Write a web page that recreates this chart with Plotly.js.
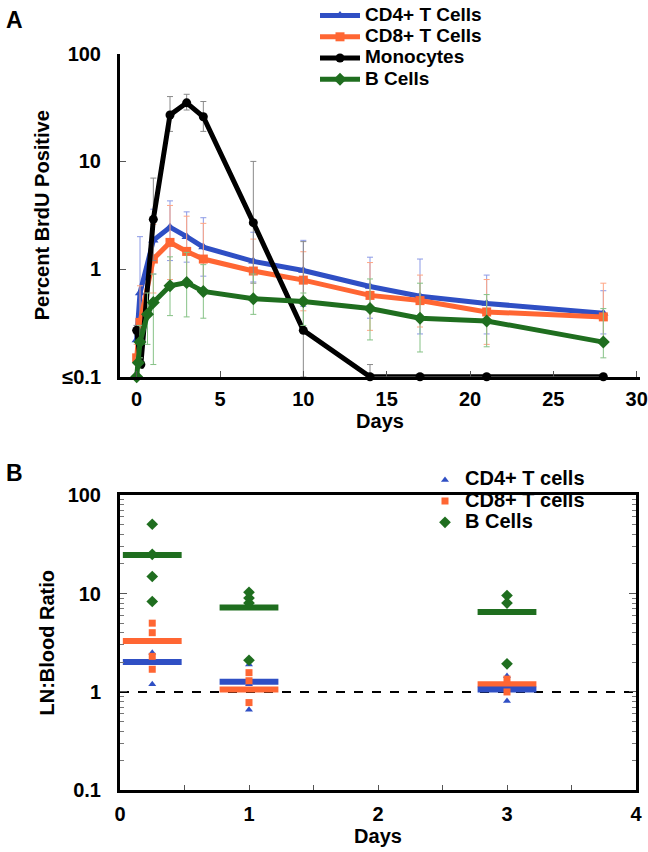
<!DOCTYPE html>
<html>
<head>
<meta charset="utf-8">
<script src="https://cdn.plot.ly/plotly-3.0.1.min.js"></script>
<style>html,body{margin:0;padding:0;background:#fff;}#chart{width:648px;height:852px;}</style>
</head>
<body>
<div id="chart"></div>
<script>
// ---------- Panel A: Percent BrdU positive over time ----------
const cd4Days = [0, 0.2, 1, 2, 3, 4, 7, 10, 14, 17, 21, 28];
const cd4Pct  = [0.22, 0.6, 1.85, 2.45, 2.0, 1.6, 1.18, 0.97, 0.69, 0.56, 0.48, 0.39];
const cd4Hi   = [0.3, 2.0, 3.6, 4.3, 3.4, 3.0, 2.2, 1.85, 1.29, 1.24, 0.88, 0.63];
const cd4Lo   = [0.15, 0.3, 0.9, 1.2, 1.16, 0.86, 0.76, 0.45, 0.35, 0.25, 0.25, 0.25];

const cd8Days = [0, 0.2, 1, 2, 3, 4, 7, 10, 14, 17, 21, 28];
const cd8Pct  = [0.15, 0.32, 1.24, 1.77, 1.46, 1.24, 0.96, 0.79, 0.57, 0.51, 0.40, 0.36];
const cd8Hi   = [0.2, 0.7, 2.6, 3.9, 3.1, 2.66, 1.9, 1.45, 1.15, 0.88, 0.80, 0.74];
const cd8Lo   = [0.1, 0.15, 0.6, 0.8, 0.7, 0.6, 0.5, 0.41, 0.27, 0.29, 0.20, 0.22];

const monoDays = [0, 0.25, 1, 2, 3, 4, 7, 10, 14, 17, 21, 28];
const monoPct  = [0.27, 0.13, 2.9, 27, 35, 26, 2.7, 0.27, 0.1, 0.1, 0.1, 0.1];
const monoHi   = [0.3, 0.15, 7, 40, 42, 36, 10, 1.8, 0.13, 0.1, 0.1, 0.1];
const monoLo   = [0.25, 0.12, 1.2, 19, 30, 19, 0.74, 0.1, 0.1, 0.1, 0.1, 0.1];

const bDays = [0, 0.1, 0.2, 0.65, 1, 2, 3, 4, 7, 10, 14, 17, 21, 28];
const bPct  = [0.1, 0.135, 0.21, 0.38, 0.49, 0.70, 0.75, 0.62, 0.53, 0.50, 0.43, 0.35, 0.33, 0.21];
const bHi   = [0.1, 0.15, 0.3, 0.6, 0.9, 1.3, 1.43, 1.1, 0.9, 0.6, 0.81, 0.74, 0.58, 0.43];
const bLo   = [0.1, 0.12, 0.15, 0.2, 0.13, 0.37, 0.36, 0.35, 0.38, 0.3, 0.22, 0.17, 0.19, 0.15];

// ---------- Panel B: LN:Blood ratio ----------
const cd4RatioDays = [0.25, 0.25, 0.25, 1, 1, 1, 3, 3];
const cd4Ratio     = [2.5, 2.0, 1.2, 1.9, 1.2, 0.66, 1.45, 0.81];
const cd8RatioDays = [0.25, 0.25, 0.25, 0.25, 1, 1, 1, 3, 3];
const cd8Ratio     = [5.0, 4.0, 2.3, 1.7, 1.57, 1.3, 0.78, 1.35, 1.0];
const bRatioDays   = [0.25, 0.25, 0.25, 0.25, 1, 1, 1, 1, 3, 3, 3];
const bRatio       = [50.6, 25, 14.9, 8.3, 10.3, 9.0, 8.0, 2.1, 9.55, 8.0, 1.93];

const summaryDays  = [0.25, 1, 3];
const cd4Summary   = [2.02, 1.27, 1.06];
const cd8Summary   = [3.3, 1.06, 1.2];
const bSummary     = [24.6, 7.2, 6.5];

const legendA = ['CD4+ T Cells', 'CD8+ T Cells', 'Monocytes', 'B Cells'];
const legendB = ['CD4+ T cells', 'CD8+ T cells', 'B Cells'];

const colBlue = '#2f4fc4', colOrange = '#ff6633', colBlack = '#000000', colGreen = '#1f6e1f';
const ebBlue = '#8c9ae6', ebOrange = '#ffa584', ebBlack = '#8a8a8a', ebGreen = '#86c286';

function errs(y, hi, lo) {
  return {
    type: 'data', symmetric: false,
    array: y.map((v, i) => Math.max(hi[i] - v, 0)),
    arrayminus: y.map((v, i) => Math.max(v - lo[i], 0)),
    thickness: 1, width: 3
  };
}
const big = (t, px) => '<span style="font-size:' + px + 'px">' + t + '</span>';

const FONT = 'Liberation Sans, Arial, Helvetica, sans-serif';

const traces = [
  { x: cd4Days, y: cd4Pct, name: big(legendA[0], 19), type: 'scatter', mode: 'lines+markers',
    line: {color: colBlue, width: 5}, marker: {symbol: 'triangle-up', size: 9, color: colBlue},
    error_y: Object.assign(errs(cd4Pct, cd4Hi, cd4Lo), {color: ebBlue}),
    xaxis: 'x', yaxis: 'y', legend: 'legend', cliponaxis: false },
  { x: cd8Days, y: cd8Pct, name: big(legendA[1], 19), type: 'scatter', mode: 'lines+markers',
    line: {color: colOrange, width: 5}, marker: {symbol: 'square', size: 9, color: colOrange},
    error_y: Object.assign(errs(cd8Pct, cd8Hi, cd8Lo), {color: ebOrange}),
    xaxis: 'x', yaxis: 'y', legend: 'legend', cliponaxis: false },
  { x: monoDays, y: monoPct, name: big(legendA[2], 19), type: 'scatter', mode: 'lines+markers',
    line: {color: colBlack, width: 5}, marker: {symbol: 'circle', size: 9, color: colBlack},
    error_y: Object.assign(errs(monoPct, monoHi, monoLo), {color: ebBlack}),
    xaxis: 'x', yaxis: 'y', legend: 'legend', cliponaxis: false },
  { x: bDays, y: bPct, name: big(legendA[3], 19), type: 'scatter', mode: 'lines+markers',
    line: {color: colGreen, width: 5}, marker: {symbol: 'diamond', size: 10, color: colGreen},
    error_y: Object.assign(errs(bPct, bHi, bLo), {color: ebGreen}),
    xaxis: 'x', yaxis: 'y', legend: 'legend', cliponaxis: false },

  // Panel B summary bars
  { x: summaryDays, y: bSummary, type: 'scatter', mode: 'markers', showlegend: false, hoverinfo: 'skip',
    marker: {symbol: 'line-ew', size: 42, line: {color: colGreen, width: 6}}, xaxis: 'x2', yaxis: 'y2' },
  { x: summaryDays, y: cd8Summary, type: 'scatter', mode: 'markers', showlegend: false, hoverinfo: 'skip',
    marker: {symbol: 'line-ew', size: 42, line: {color: colOrange, width: 6}}, xaxis: 'x2', yaxis: 'y2' },
  { x: summaryDays, y: cd4Summary, type: 'scatter', mode: 'markers', showlegend: false, hoverinfo: 'skip',
    marker: {symbol: 'line-ew', size: 42, line: {color: colBlue, width: 6}}, xaxis: 'x2', yaxis: 'y2' },

  // Panel B individual points
  { x: cd4RatioDays, y: cd4Ratio, name: big(legendB[0], 20), type: 'scatter', mode: 'markers',
    marker: {symbol: 'triangle-up', size: 7, color: colBlue}, xaxis: 'x2', yaxis: 'y2', legend: 'legend2' },
  { x: cd8RatioDays, y: cd8Ratio, name: big(legendB[1], 20), type: 'scatter', mode: 'markers',
    marker: {symbol: 'square', size: 7, color: colOrange}, xaxis: 'x2', yaxis: 'y2', legend: 'legend2' },
  { x: bRatioDays, y: bRatio, name: big(legendB[2], 20), type: 'scatter', mode: 'markers',
    marker: {symbol: 'diamond', size: 9, color: colGreen}, xaxis: 'x2', yaxis: 'y2', legend: 'legend2' }
];

const tickFont = {family: FONT, size: 20, color: '#000', weight: 'bold'};
const titleFont = {family: FONT, size: 20, color: '#000', weight: 'bold'};

const layout = {
  width: 648, height: 852,
  margin: {l: 0, r: 0, t: 0, b: 0},
  paper_bgcolor: '#fff', plot_bgcolor: '#fff',
  font: {family: FONT, color: '#000'},
  xaxis: {
    domain: [120/648, 640/648], anchor: 'y', range: [-1, 30.2],
    tickvals: [0, 5, 10, 15, 20, 25, 30], ticks: 'inside', ticklen: 6, tickcolor: '#555',
    showline: true, linecolor: '#000', linewidth: 3, showgrid: false, zeroline: false,
    tickfont: tickFont, ticklabelstandoff: 2,
    title: {text: 'Days', font: titleFont, standoff: 0}
  },
  yaxis: {
    domain: [1 - 374/852, 1 - 49/852], anchor: 'x', type: 'log', range: [-1, 2],
    tickvals: [0.1, 1, 10, 100], ticktext: ['≤0.1', '1', '10', '100'],
    ticks: 'inside', ticklen: 6, tickcolor: '#555',
    showline: true, linecolor: '#000', linewidth: 3, showgrid: false, zeroline: false,
    tickfont: tickFont, ticklabelstandoff: 12,
    title: {text: 'Percent BrdU Positive', font: titleFont, standoff: 8}
  },
  xaxis2: {
    domain: [120/648, 636/648], anchor: 'y2', range: [0, 4],
    tickvals: [0, 1, 2, 3, 4], ticks: 'inside', ticklen: 5, tickcolor: '#555',
    minor: {dtick: 0.5, ticks: 'inside', ticklen: 5, tickcolor: '#555'},
    showline: true, linecolor: '#000', linewidth: 3, mirror: true, showgrid: false, zeroline: false,
    tickfont: tickFont, ticklabelstandoff: 4,
    title: {text: 'Days', font: titleFont, standoff: 2}
  },
  yaxis2: {
    domain: [1 - 790/852, 1 - 493/852], anchor: 'x2', type: 'log', range: [-1, 2],
    tickvals: [0.1, 1, 10, 100], ticktext: ['0.1', '1', '10', '100'],
    ticks: 'inside', ticklen: 7, tickcolor: '#555',
    minor: {dtick: 'D1', ticks: 'inside', ticklen: 4, tickcolor: '#777', showgrid: false},
    showline: true, linecolor: '#000', linewidth: 3, mirror: 'ticks', showgrid: false, zeroline: false,
    tickfont: tickFont, ticklabelstandoff: 12,
    title: {text: 'LN:Blood Ratio', font: titleFont, standoff: 8}
  },
  legend: {
    x: 315/648, y: 1.006, xanchor: 'left', yanchor: 'top',
    bgcolor: 'rgba(0,0,0,0)', tracegroupgap: 0, itemwidth: 40,
    font: {family: FONT, size: 14, color: '#000', weight: 'bold'}
  },
  legend2: {
    x: 425/648, y: 1 - 462/852, xanchor: 'left', yanchor: 'top',
    bgcolor: 'rgba(0,0,0,0)', tracegroupgap: 0, itemwidth: 30,
    font: {family: FONT, size: 14, color: '#000', weight: 'bold'}
  },
  shapes: [
    {type: 'line', xref: 'x2 domain', yref: 'y2', x0: 0, x1: 1, y0: 1, y1: 1,
     line: {color: '#000', width: 2, dash: 'dash'}, layer: 'below'}
  ],
  annotations: [
    {text: 'A', x: 4/648, y: 1, xref: 'paper', yref: 'paper', xanchor: 'left', yanchor: 'top',
     showarrow: false, font: {family: FONT, size: 23, color: '#000', weight: 'bold'}},
    {text: 'B', x: 4/648, y: 1 - 456/852, xref: 'paper', yref: 'paper', xanchor: 'left', yanchor: 'top',
     showarrow: false, font: {family: FONT, size: 23, color: '#000', weight: 'bold'}}
  ],
  showlegend: true
};

Plotly.newPlot('chart', traces, layout, {displayModeBar: false, staticPlot: true});
</script>
</body>
</html>
